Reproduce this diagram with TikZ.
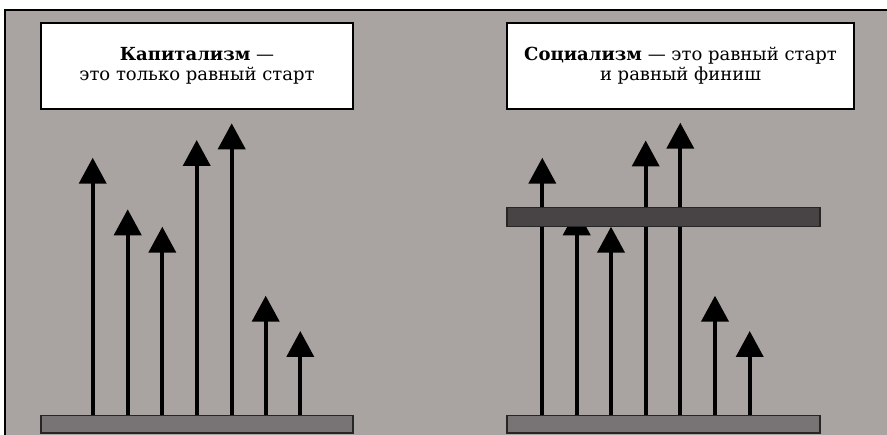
\documentclass[tikz,border=0pt]{standalone}
\usepackage{fontspec}
\setmainfont{DejaVu Serif}
\usepackage{tikz}
\usetikzlibrary{arrows.meta}
\definecolor{bggray}{RGB}{169,164,161}
\definecolor{barlight}{RGB}{120,116,117}
\definecolor{bardark}{RGB}{72,67,69}
\newcommand{\boxfont}{\fontsize{18}{20.5}\selectfont}

\begin{document}
\begin{tikzpicture}[%
    x=1pt, y=-1pt,
    textbox/.style={
      rectangle,
      draw=black,
      fill=white,
      line width=1.5pt,
      minimum height=86pt,
      align=center,
      font=\boxfont
    },
    bar/.style={
      rectangle,
      draw=black!85,
      line width=1.5pt,
      inner sep=0pt
    },
    rise/.style={
      line width=4pt,
      -{Triangle[width=27pt,length=26pt]}
    }
    ]
    \useasboundingbox (0,0) rectangle (887,435);
    \fill[white] (0,0) rectangle (887,435);
    \fill[bggray] (5,10) rectangle (887,435);
    \draw[line width=2pt] (5,435) -- (5,10) -- (887,10);

    % headings
    \draw (197,65.8) node[textbox, minimum width=312pt] (cap) {\textbf{Капитализм} —\\это только равный старт};
    \draw (680.5,65.8) node[textbox, minimum width=347pt] (soc) {\textbf{Социализм} — это равный старт\\и равный финиш};

    % start bars
    \draw (197,424.5) node[bar, fill=barlight, minimum width=312pt, minimum height=17.5pt] (capstart) {};
    \draw (663.5,424.5) node[bar, fill=barlight, minimum width=313pt, minimum height=17.5pt] (socstart) {};

    % left: only the start is equal
    \coordinate (a1) at (92.7,157.7);
    \coordinate (a2) at (127.7,209.3);
    \coordinate (a3) at (162.3,226.7);
    \coordinate (a4) at (196.7,140);
    \coordinate (a5) at (231.7,123.3);
    \coordinate (a6) at (265.7,295.7);
    \coordinate (a7) at (300.3,331);
    \draw[rise] (capstart.north -| a1) -- (a1);
    \draw[rise] (capstart.north -| a2) -- (a2);
    \draw[rise] (capstart.north -| a3) -- (a3);
    \draw[rise] (capstart.north -| a4) -- (a4);
    \draw[rise] (capstart.north -| a5) -- (a5);
    \draw[rise] (capstart.north -| a6) -- (a6);
    \draw[rise] (capstart.north -| a7) -- (a7);

    % right: the finish is equal too
    \coordinate (b1) at (542.3,157.7);
    \coordinate (b2) at (576.7,209.3);
    \coordinate (b3) at (611,226.7);
    \coordinate (b4) at (645.7,140.5);
    \coordinate (b5) at (680.3,122.7);
    \coordinate (b6) at (715,295.7);
    \coordinate (b7) at (749.7,331);
    \draw[rise] (socstart.north -| b1) -- (b1);
    \draw[rise] (socstart.north -| b2) -- (b2);
    \draw[rise] (socstart.north -| b3) -- (b3);
    \draw[rise] (socstart.north -| b4) -- (b4);
    \draw[rise] (socstart.north -| b5) -- (b5);
    \draw[rise] (socstart.north -| b6) -- (b6);
    \draw[rise] (socstart.north -| b7) -- (b7);

    % finish bar over the arrows
    \draw (663.5,217.2) node[bar, fill=bardark, minimum width=313pt, minimum height=19pt] (socfinish) {};
  \end{tikzpicture}
\end{document}
